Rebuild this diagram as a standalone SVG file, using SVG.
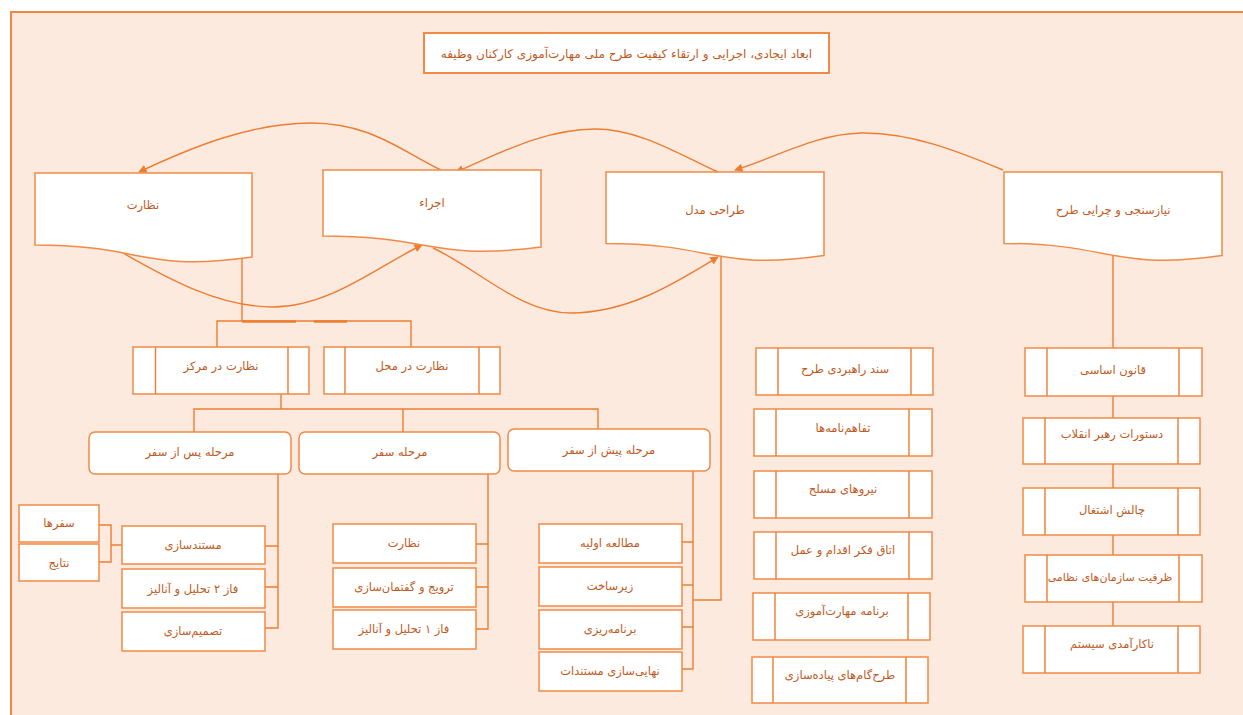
<svg xmlns="http://www.w3.org/2000/svg" width="1243" height="715" viewBox="0 0 1243 715">
<defs>
<style>
.frame{fill:#FCEADF;stroke:#ED7D31;stroke-width:1.8}
.box{fill:#FFFFFF;stroke:#F08A45;stroke-width:1.5}
.ln{fill:none;stroke:#ED7D31;stroke-width:1.4}
.t{font-family:"DejaVu Sans","Noto Sans",sans-serif;font-size:11.5px;fill:#BF5A1E;text-anchor:middle;dominant-baseline:middle}
.tt{font-size:12px}
</style>
<marker id="ah" viewBox="0 0 10 10" refX="9" refY="5" markerWidth="6" markerHeight="6" orient="auto" markerUnits="strokeWidth">
<path d="M0,0 L10,5 L0,10 z" fill="#ED7D31"/>
</marker>
</defs>
<rect x="0" y="0" width="1243" height="715" fill="#FFFFFF"/>
<rect class="frame" x="11" y="12" width="1240" height="712"/>

<g id="title">
<rect class="box" x="424" y="33" width="405" height="40" style="stroke-width:2"/>
<text class="t tt" x="626.5" y="54" direction="rtl">ابعاد ایجادی، اجرایی و ارتقاء کیفیت طرح ملی مهارت‌آموزی کارکنان وظیفه</text>
</g>

<g id="connectors">
<path class="ln" marker-end="url(#ah)" d="M441,170 C400,150 370,123 311,123 C250,123 190,148 139,172"/>
<path class="ln" marker-end="url(#ah)" d="M718,172 C680,155 640,129 595,129 C545,129 500,153 456,172"/>
<path class="ln" marker-end="url(#ah)" d="M1003,170 C960,152 910,132 861,133 C815,134 775,158 735,170"/>
<path class="ln" marker-end="url(#ah)" d="M123,253 C170,280 220,307 273,307 C330,307 380,265 422,245"/>
<path class="ln" marker-end="url(#ah)" d="M433,248 C480,270 520,313 571,313 C630,313 680,280 718,257"/>
<path class="ln" d="M242,257 V321 M217,347 V321 H411 V347"/>
<path class="ln" style="stroke-width:2.6" d="M242,321.5 H296 M314,321.5 H347"/>
<path class="ln" d="M281,394 V409 M194,432 V409 H598 V429 M403,409 V432"/>
<path class="ln" d="M278,474 V628 H265 M278,546 H265 M278,587 H265"/>
<path class="ln" d="M122,545 H111 M99,525 H111 V562 H99"/>
<path class="ln" d="M488,474 V629 H476 M488,544 H476 M488,587 H476"/>
<path class="ln" d="M693,471 V669 H682 M693,542 H682 M693,585 H682 M693,627 H682"/>
<path class="ln" d="M721,254 V600 H693"/>
<path class="ln" d="M1113,253 V348 M1113,396 V418 M1113,464 V488 M1113,535 V555 M1113,602 V626"/>
</g>

<g id="n-nezarat">
<path class="box" d="M35,173 H252 V257 C143,272.5 143,245 35,245 Z"/>
<text class="t" x="143" y="205">نظارت</text>
</g>
<g id="n-ejra">
<path class="box" d="M323,170 H541 V247 C432,261 432,236 323,236 Z"/>
<text class="t" x="432" y="203">اجراء</text>
</g>
<g id="n-tarahi">
<path class="box" d="M606,172 H824 V255.5 C715,271 715,243.5 606,243.5 Z"/>
<text class="t" x="715" y="210">طراحی مدل</text>
</g>
<g id="n-niaz">
<path class="box" d="M1004,172 H1222 V255.5 C1113,271 1113,243.5 1004,243.5 Z"/>
<text class="t" x="1113" y="210">نیازسنجی و چرایی طرح</text>
</g>

<g id="n-markaz">
<rect class="box" x="133" y="347" width="176" height="47"/>
<path class="ln" d="M155.5,347 V394 M288,347 V394"/>
<text class="t" x="221" y="366">نظارت در مرکز</text>
</g>
<g id="n-mahal">
<rect class="box" x="324" y="347" width="176" height="47"/>
<path class="ln" d="M345,347 V394 M479,347 V394"/>
<text class="t" x="412" y="366">نظارت در محل</text>
</g>

<g id="n-pas">
<rect class="box" x="89" y="432" width="202" height="42" rx="6"/>
<text class="t" x="190" y="452">مرحله پس از سفر</text>
</g>
<g id="n-safar">
<rect class="box" x="299" y="432" width="201" height="42" rx="6"/>
<text class="t" x="400" y="452">مرحله سفر</text>
</g>
<g id="n-pish">
<rect class="box" x="508" y="429" width="202" height="42" rx="6"/>
<text class="t" x="609" y="450">مرحله پیش از سفر</text>
</g>

<g id="n-safarha">
<rect class="box" x="19" y="505" width="80" height="37"/>
<text class="t" x="59" y="523">سفرها</text>
</g>
<g id="n-nataiej">
<rect class="box" x="19" y="544" width="80" height="37"/>
<text class="t" x="59" y="563">نتایج</text>
</g>
<g id="n-mostanad">
<rect class="box" x="122" y="526" width="143" height="38"/>
<text class="t" x="193" y="545">مستندسازی</text>
</g>
<g id="n-faz2">
<rect class="box" x="122" y="569" width="143" height="39"/>
<text class="t" x="193" y="589">فاز ۲ تحلیل و آنالیز</text>
</g>
<g id="n-tasmim">
<rect class="box" x="122" y="612" width="143" height="39"/>
<text class="t" x="193" y="631">تصمیم‌سازی</text>
</g>

<g id="n-nezarat2">
<rect class="box" x="333" y="524" width="143" height="39"/>
<text class="t" x="404" y="543">نظارت</text>
</g>
<g id="n-tarvij">
<rect class="box" x="333" y="568" width="143" height="39"/>
<text class="t" x="404" y="587">ترویج و گفتمان‌سازی</text>
</g>
<g id="n-faz1">
<rect class="box" x="333" y="610" width="143" height="39"/>
<text class="t" x="404" y="629">فاز ۱ تحلیل و آنالیز</text>
</g>

<g id="n-motalee">
<rect class="box" x="539" y="524" width="143" height="39"/>
<text class="t" x="610" y="543">مطالعه اولیه</text>
</g>
<g id="n-zirsakht">
<rect class="box" x="539" y="567" width="143" height="39"/>
<text class="t" x="610" y="586">زیرساخت</text>
</g>
<g id="n-barname">
<rect class="box" x="539" y="610" width="143" height="39"/>
<text class="t" x="610" y="629">برنامه‌ریزی</text>
</g>
<g id="n-nahai">
<rect class="box" x="539" y="652" width="143" height="39"/>
<text class="t" x="610" y="671">نهایی‌سازی مستندات</text>
</g>

<g id="n-sanad">
<rect class="box" x="756" y="348" width="177" height="47"/>
<path class="ln" d="M778,348 V395 M911,348 V395"/>
<text class="t" x="845" y="369">سند راهبردی طرح</text>
</g>
<g id="n-tafahom">
<rect class="box" x="754" y="409" width="178" height="47"/>
<path class="ln" d="M776,409 V456 M909,409 V456"/>
<text class="t" x="843" y="428">تفاهم‌نامه‌ها</text>
</g>
<g id="n-niroo">
<rect class="box" x="754" y="471" width="178" height="47"/>
<path class="ln" d="M776,471 V518 M909,471 V518"/>
<text class="t" x="843" y="489">نیروهای مسلح</text>
</g>
<g id="n-otagh">
<rect class="box" x="754" y="532" width="178" height="47"/>
<path class="ln" d="M776,532 V579 M909,532 V579"/>
<text class="t" x="843" y="550">اتاق فکر اقدام و عمل</text>
</g>
<g id="n-barname2">
<rect class="box" x="753" y="593" width="177" height="47"/>
<path class="ln" d="M775,593 V640 M908,593 V640"/>
<text class="t" x="842" y="611">برنامه مهارت‌آموزی</text>
</g>
<g id="n-tarhgam">
<rect class="box" x="752" y="657" width="176" height="46"/>
<path class="ln" d="M773,657 V703 M906,657 V703"/>
<text class="t" x="840" y="675">طرح‌گام‌های پیاده‌سازی</text>
</g>

<g id="n-ghanoon">
<rect class="box" x="1025" y="348" width="177" height="48"/>
<path class="ln" d="M1047,348 V396 M1179,348 V396"/>
<text class="t" x="1113" y="370">قانون اساسی</text>
</g>
<g id="n-dastoor">
<rect class="box" x="1023" y="418" width="177" height="46"/>
<path class="ln" d="M1045,418 V464 M1178,418 V464"/>
<text class="t" x="1112" y="434">دستورات رهبر انقلاب</text>
</g>
<g id="n-chalesh">
<rect class="box" x="1023" y="488" width="177" height="47"/>
<path class="ln" d="M1045,488 V535 M1178,488 V535"/>
<text class="t" x="1112" y="510">چالش اشتغال</text>
</g>
<g id="n-zarfiat">
<rect class="box" x="1025" y="555" width="177" height="47"/>
<path class="ln" d="M1047,555 V602 M1179,555 V602"/>
<text class="t" x="1110" y="578" style="font-size:11px">ظرفیت سازمان‌های نظامی</text>
</g>
<g id="n-nakaramadi">
<rect class="box" x="1023" y="626" width="177" height="47"/>
<path class="ln" d="M1045,626 V673 M1178,626 V673"/>
<text class="t" x="1112" y="644">ناکارآمدی سیستم</text>
</g>
</svg>
